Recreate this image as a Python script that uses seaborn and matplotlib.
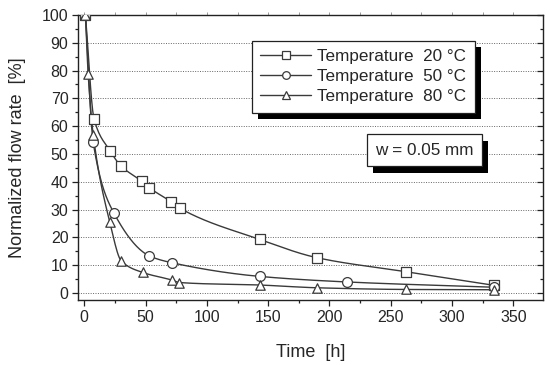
import numpy as np
import matplotlib
matplotlib.use('Agg')
import matplotlib.pyplot as plt
import matplotlib.patheffects as pe
from matplotlib.lines import Line2D
from matplotlib.ticker import MultipleLocator, NullFormatter
import seaborn as sns

# --- data ---
t_20 = [1, 8, 21, 30, 47, 53, 71, 78, 143, 190, 262, 334]
q_20 = [100, 62.6, 51.2, 45.7, 40.2, 37.9, 32.8, 30.5, 19.3, 12.7, 7.7, 2.8]

t_50 = [1, 7.3, 24.3, 53, 71.6, 143, 214, 334]
q_50 = [100, 54.2, 28.7, 13.4, 10.9, 6.0, 4.0, 2.1]

t_80 = [1, 3.2, 7.3, 20.8, 30.3, 47.8, 71.3, 77.6, 143, 190, 262, 334]
q_80 = [100, 78.8, 57.0, 25.6, 11.5, 7.4, 4.7, 3.8, 2.9, 1.9, 1.3, 1.2]

labels = ['Temperature  20 \u00b0C', 'Temperature  50 \u00b0C', 'Temperature  80 \u00b0C']
markers = ['s', 'o', '^']
LC = '#3a3a3a'
DK = '#222222'


def smooth(x, y, num=400):
    # monotone cubic (PCHIP) curve through the measured points, for drawing only
    x = np.asarray(x, float); y = np.asarray(y, float)
    h = np.diff(x); d = np.diff(y) / h
    m = np.zeros_like(y)
    for k in range(1, len(x) - 1):
        if d[k - 1] * d[k] > 0:
            w1 = 2 * h[k] + h[k - 1]; w2 = h[k] + 2 * h[k - 1]
            m[k] = (w1 + w2) / (w1 / d[k - 1] + w2 / d[k])
    m[0] = d[0]; m[-1] = d[-1]
    xs = np.linspace(x[0], x[-1], num)
    idx = np.clip(np.searchsorted(x, xs) - 1, 0, len(h) - 1)
    s = (xs - x[idx]) / h[idx]
    h00 = 2 * s**3 - 3 * s**2 + 1; h10 = s**3 - 2 * s**2 + s
    h01 = -2 * s**3 + 3 * s**2; h11 = s**3 - s**2
    ys = h00 * y[idx] + h10 * h[idx] * m[idx] + h01 * y[idx + 1] + h11 * h[idx] * m[idx + 1]
    return xs, ys


sns.set_style('ticks')
plt.rcParams['font.family'] = ['Liberation Sans', 'DejaVu Sans']

fig = plt.figure(figsize=(5.5, 3.65), dpi=100)
ax = fig.add_axes([0.142, 0.178, 0.845, 0.781])

for i in range(0, 10):
    ax.axhline(i * 10, color='#666666', lw=0.7, ls=(0, (1, 1.5)), zorder=0)

for t, q, mk in zip([t_20, t_50, t_80], [q_20, q_50, q_80], markers):
    xs, ys = smooth(t, q)
    sns.lineplot(x=xs, y=ys, ax=ax, color=LC, lw=1.0, sort=False, zorder=2)
    ax.scatter(t, q, marker=mk, s=46 if mk != 'o' else 50, facecolor='white',
               edgecolor=LC, linewidth=0.9, zorder=3)

ax.set_xlim(-5, 374)
ax.set_ylim(-2.5, 100)
ax.xaxis.set_major_locator(MultipleLocator(50))
ax.xaxis.set_minor_locator(MultipleLocator(25))
ax.yaxis.set_major_locator(MultipleLocator(10))
ax.yaxis.set_minor_locator(MultipleLocator(5))
ax.tick_params(axis='both', which='major', labelsize=11.5, length=4, width=0.9,
               color=DK, direction='out', pad=3)
ax.tick_params(axis='both', which='minor', length=2.5, width=0.9, color=DK, direction='out')
for side in ['top', 'right']:
    ax.spines[side].set_visible(True)
for sp in ax.spines.values():
    sp.set_linewidth(1.0)
    sp.set_color(DK)

# faint outward ticks on top, inward ticks on the right
top = ax.secondary_xaxis('top')
top.xaxis.set_major_locator(MultipleLocator(50))
top.xaxis.set_minor_locator(MultipleLocator(25))
top.xaxis.set_major_formatter(NullFormatter())
top.tick_params(which='both', direction='out', length=2, width=0.7, color='#999999')
top.spines['top'].set_visible(False)
right = ax.secondary_yaxis('right')
right.yaxis.set_major_locator(MultipleLocator(10))
right.yaxis.set_minor_locator(MultipleLocator(5))
right.yaxis.set_major_formatter(NullFormatter())
right.tick_params(which='major', direction='in', length=4, width=0.9, color=DK)
right.tick_params(which='minor', direction='in', length=2.5, width=0.9, color=DK)
right.spines['right'].set_visible(False)

ax.set_xlabel('Time  [h]', fontsize=13, labelpad=14)
ax.set_ylabel('Normalized flow rate  [%]', fontsize=13, labelpad=11)

handles = [Line2D([0], [0], color=LC, lw=1.0, marker=mk, markersize=5.5,
                  markerfacecolor='white', markeredgecolor=LC, markeredgewidth=0.9)
           for mk in markers]
leg = ax.legend(handles, labels, loc='upper left', bbox_to_anchor=(0.3735, 0.91),
                borderaxespad=0, fontsize=12.3, frameon=True, fancybox=False,
                handlelength=3.0, handletextpad=0.35, labelspacing=0.3,
                borderpad=0.5)
frame = leg.get_frame()
frame.set_edgecolor(DK); frame.set_linewidth(0.9); frame.set_alpha(1)
frame.set_path_effects([pe.SimplePatchShadow(offset=(4.5, -4.5), shadow_rgbFace='black', alpha=1),
                        pe.Normal()])

txt = ax.text(0.745, 0.525, 'w = 0.05 mm', transform=ax.transAxes, fontsize=12.3,
              ha='center', va='center',
              bbox=dict(boxstyle='square,pad=0.5', facecolor='white',
                        edgecolor=DK, linewidth=0.9))
txt.get_bbox_patch().set_path_effects([pe.SimplePatchShadow(offset=(4.5, -4.5), shadow_rgbFace='black', alpha=1),
                                       pe.Normal()])

fig.savefig('out.png', dpi=100)
